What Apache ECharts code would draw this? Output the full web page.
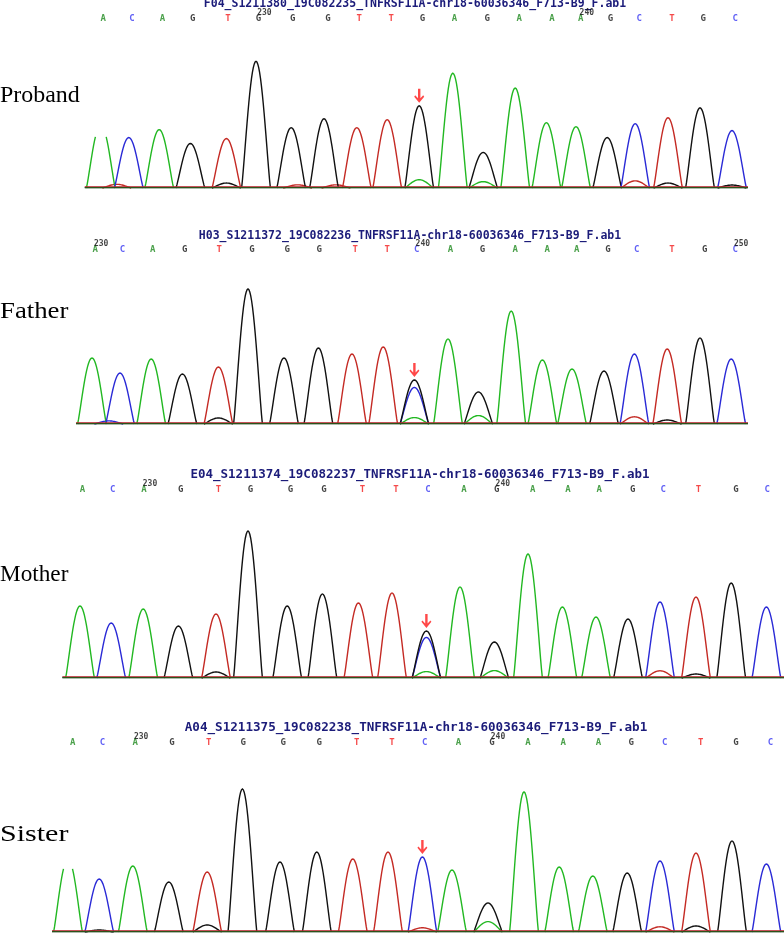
<!DOCTYPE html>
<html>
<head>
<meta charset="utf-8">
<script src="https://cdn.jsdelivr.net/npm/echarts@6/dist/echarts.min.js"></script>
<style>
html,body{margin:0;padding:0;background:#fff;}
#chart{width:784px;height:935px;}
</style>
</head>
<body>
<div id="chart"></div>
<script>
// ---------------- DATA ----------------
const PANEL_NAMES = ['Proband', 'Father', 'Mother', 'Sister'];
const FILE_NAMES = [
  'F04_S1211380_19C082235_TNFRSF11A-chr18-60036346_F713-B9_F.ab1',
  'H03_S1211372_19C082236_TNFRSF11A-chr18-60036346_F713-B9_F.ab1',
  'E04_S1211374_19C082237_TNFRSF11A-chr18-60036346_F713-B9_F.ab1',
  'A04_S1211375_19C082238_TNFRSF11A-chr18-60036346_F713-B9_F.ab1'
];

// base calls (letters row)
const CALLS_PROBAND = ['A','C','A','G','T','G','G','G','T','T','G','A','G','A','A','A','G','C','T','G','C'];
const CALLS_FATHER  = ['A','C','A','G','T','G','G','G','T','T','C','A','G','A','A','A','G','C','T','G','C'];
const CALLS_MOTHER  = ['A','C','A','G','T','G','G','G','T','T','C','A','G','A','A','A','G','C','T','G','C'];
const CALLS_SISTER  = ['A','C','A','G','T','G','G','G','T','T','C','A','G','A','A','A','G','C','T','G','C'];

// scan position of each base call
const CALL_SCAN_PROBAND = [129,165,203,241,285,323,366,410,449,489,528,568,609,649,690,726,763,799,840,879,919];
const CALL_SCAN_FATHER  = [119,153,191,231,274,315,359,399,444,484,521,563,603,644,684,721,760,796,840,881,919];
const CALL_SCAN_MOTHER  = [103,141,180,226,273,313,363,405,453,495,535,580,621,666,710,749,791,829,873,920,959];
const CALL_SCAN_SISTER  = [91,128,169,215,261,304,354,399,446,490,531,573,615,660,704,748,789,831,876,920,963];

// position numbers: [call index, label]
const POS_PROBAND = [[5,'230'],[15,'240']];
const POS_FATHER  = [[0,'230'],[10,'240'],[20,'250']];
const POS_MOTHER  = [[2,'230'],[12,'240']];
const POS_SISTER  = [[2,'230'],[12,'240']];

// main peaks: scan, height (RFU), channel
const PEAK_X_PROBAND = [126,161,199,238,283,320,364,405,446,484,524,566,604,644,683,720,759,794,835,875,915];
const PEAK_H_PROBAND = [640,510,590,450,500,1280,610,700,610,690,830,1160,360,1010,660,620,510,650,710,810,580];
const PEAK_B_PROBAND = ['A','C','A','G','T','G','G','G','T','T','G','A','G','A','A','A','G','C','T','G','C'];

const PEAK_X_FATHER = [115,150,189,228,273,310,355,398,440,479,518,560,598,639,678,715,755,793,834,875,914];
const PEAK_H_FATHER = [660,510,650,500,570,1350,660,760,700,770,440,850,320,1130,640,550,530,700,750,860,650];
const PEAK_B_FATHER = ['A','C','A','G','T','G','G','G','T','T','G','A','G','A','A','A','G','C','T','G','C'];

const PEAK_X_MOTHER = [100,139,179,223,270,310,359,403,448,490,533,575,618,660,703,745,785,825,870,914,958];
const PEAK_H_MOTHER = [720,550,690,520,640,1470,720,840,750,850,470,910,360,1240,710,610,590,760,810,950,710];
const PEAK_B_MOTHER = ['A','C','A','G','T','G','G','G','T','T','G','A','G','A','A','A','G','C','T','G','C'];

const PEAK_X_SISTER = [85,124,166,211,259,303,350,396,441,485,528,565,610,655,699,741,784,825,870,915,958];
const PEAK_H_SISTER = [730,530,660,500,600,1430,700,800,730,800,750,620,290,1400,650,560,590,710,790,910,680];
const PEAK_B_SISTER = ['A','C','A','G','T','G','G','G','T','T','C','A','G','A','A','A','G','C','T','G','C'];

// secondary / minor peaks: [scan, height, channel]
const MINOR_PROBAND = [[283,50,'G'],[524,80,'A'],[604,60,'A'],[794,60,'T'],[835,50,'G'],[146,25,'T'],[372,20,'T'],[420,20,'T'],[915,30,'G']];
const MINOR_FATHER  = [[518,360,'C'],[273,60,'G'],[518,60,'A'],[598,80,'A'],[793,60,'T'],[834,40,'G'],[136,25,'C']];
const MINOR_MOTHER  = [[533,400,'C'],[270,60,'G'],[533,60,'A'],[618,70,'A'],[825,60,'T'],[870,40,'G']];
const MINOR_SISTER  = [[259,70,'G'],[610,100,'A'],[825,40,'T'],[870,60,'G'],[528,30,'T'],[124,20,'G']];

// clipped first peak: [peak index, visible top (RFU)] or null
const CLIP_PROBAND = [0, 550];
const CLIP_FATHER = null;
const CLIP_MOTHER = null;
const CLIP_SISTER = [0, 650];

// trace scan range
const RANGE_PROBAND = [106, 935];
const RANGE_FATHER  = [95, 935];
const RANGE_MOTHER  = [78, 980];
const RANGE_SISTER  = [65, 980];

const MUTATION_INDEX = 10;

// ---------------- STYLE / LAYOUT ----------------
const TRACE_COLOR  = {A:'#22b822', C:'#2a2ad6', G:'#111111', T:'#c42a24'};
const LETTER_COLOR = {A:'#1f8a1f', C:'#3a3af2', G:'#111111', T:'#f21d1d'};
const BASELINE_LEVEL = {G:0, T:12, A:4, C:6};
const BASELINE_ORDER = ['C','A','T','G'];
const CH = ['A','C','G','T'];
const BASE_Y = [188, 424, 678, 932];      // pixel of baseline per panel
const PLOT_H = 190;                        // px
const Y_MAX = 1900;
const X_MAX = 980;
const LETTER_ROW = [1710, 1740, 1880, 1890];
const TITLE_Y = [4, 236, 475, 728];
const TITLE_X = [415, 410, 420, 416];
const TITLE_SIZE = [11.5, 11.5, 12.5, 12.6];
const LABEL_Y = [96, 312, 575, 835];
const HALF = 18;   // half base width of a peak in scans

const P = [
  {calls:CALLS_PROBAND, cscan:CALL_SCAN_PROBAND, pos:POS_PROBAND, px:PEAK_X_PROBAND, ph:PEAK_H_PROBAND, pb:PEAK_B_PROBAND, minor:MINOR_PROBAND, clip:CLIP_PROBAND, range:RANGE_PROBAND},
  {calls:CALLS_FATHER, cscan:CALL_SCAN_FATHER, pos:POS_FATHER, px:PEAK_X_FATHER, ph:PEAK_H_FATHER, pb:PEAK_B_FATHER, minor:MINOR_FATHER, clip:CLIP_FATHER, range:RANGE_FATHER},
  {calls:CALLS_MOTHER, cscan:CALL_SCAN_MOTHER, pos:POS_MOTHER, px:PEAK_X_MOTHER, ph:PEAK_H_MOTHER, pb:PEAK_B_MOTHER, minor:MINOR_MOTHER, clip:CLIP_MOTHER, range:RANGE_MOTHER},
  {calls:CALLS_SISTER, cscan:CALL_SCAN_SISTER, pos:POS_SISTER, px:PEAK_X_SISTER, ph:PEAK_H_SISTER, pb:PEAK_B_SISTER, minor:MINOR_SISTER, clip:CLIP_SISTER, range:RANGE_SISTER}
];

function renderPeak(params, api) {
  const x = api.value(0), h = api.value(1), ci = api.value(2), cut = api.value(3);
  const N = 16;
  const segs = []; let cur = [];
  for (let k = -N; k <= N; k++) {
    const t = k / N;
    const y = h * Math.pow(Math.cos(t * Math.PI / 2), 1.15);
    if (cut > 0 && y > cut) { if (cur.length) { segs.push(cur); cur = []; } continue; }
    cur.push(api.coord([x + t * HALF, y]));
  }
  if (cur.length) segs.push(cur);
  return {
    type: 'group',
    children: segs.map(pts => ({
      type: 'polyline',
      shape: {points: pts},
      style: {stroke: TRACE_COLOR[CH[ci]], fill: null, lineWidth: 1.4}
    }))
  };
}

const arrowPath = 'path://M3.8,0 L6.2,0 L6.2,9.5 L9,6.5 L10,7.8 L5,14 L0,7.8 L1,6.5 L3.8,9.5 Z';

const grids = [], xAxes = [], yAxes = [], series = [], graphics = [];
const measureCtx = document.createElement('canvas').getContext('2d');

P.forEach((d, i) => {
  grids.push({left: 0, right: 0, top: BASE_Y[i] - PLOT_H, height: PLOT_H});
  xAxes.push({type: 'value', gridIndex: i, min: 0, max: X_MAX, show: false});
  yAxes.push({type: 'value', gridIndex: i, min: 0, max: Y_MAX, show: false});

  // baselines of the four channels
  BASELINE_ORDER.forEach(b => {
    series.push({
      type: 'line', xAxisIndex: i, yAxisIndex: i, silent: true, showSymbol: false,
      data: [[d.range[0], BASELINE_LEVEL[b]], [d.range[1], BASELINE_LEVEL[b]]],
      lineStyle: {color: TRACE_COLOR[b], width: 1.1}
    });
  });

  // peaks
  const pdata = [];
  d.minor.forEach(m => pdata.push([m[0], m[1] + BASELINE_LEVEL[m[2]], CH.indexOf(m[2]), 0]));
  d.px.forEach((x, k) => {
    const cut = (d.clip && d.clip[0] === k) ? d.clip[1] : 0;
    pdata.push([x, d.ph[k], CH.indexOf(d.pb[k]), cut]);
  });
  series.push({
    type: 'custom', xAxisIndex: i, yAxisIndex: i, silent: true,
    dimensions: ['scan','rfu','ch','cut'],
    encode: {x: 0, y: 1},
    renderItem: renderPeak,
    data: pdata, clip: false
  });

  // base-call letters
  series.push({
    type: 'scatter', xAxisIndex: i, yAxisIndex: i, silent: true, symbolSize: 0, clip: false,
    data: d.calls.map((c, k) => ({
      value: [d.cscan[k], LETTER_ROW[i]],
      label: {color: LETTER_COLOR[c]}
    })),
    label: {
      show: true, position: 'inside',
      formatter: p => d.calls[p.dataIndex],
      fontFamily: 'DejaVu Sans Mono', fontWeight: 'bold', fontSize: 9
    }
  });

  // position numbers
  series.push({
    type: 'scatter', xAxisIndex: i, yAxisIndex: i, silent: true, symbolSize: 0, clip: false,
    data: d.pos.map(p => [d.cscan[p[0]], LETTER_ROW[i]]),
    label: {
      show: true, position: 'inside', offset: [6, -6],
      formatter: p => d.pos[p.dataIndex][1],
      fontFamily: 'DejaVu Sans Mono', fontWeight: 'bold', fontSize: 8, color: '#111'
    }
  });

  // mutation arrow, placed on top of the peak(s) at the mutation position
  const mx = d.px[MUTATION_INDEX];
  let mh = d.ph[MUTATION_INDEX];
  d.minor.forEach(m => { if (m[0] === mx && m[1] > mh) mh = m[1]; });
  series.push({
    type: 'scatter', xAxisIndex: i, yAxisIndex: i, silent: true, clip: false,
    symbol: arrowPath, symbolSize: [10, 14], symbolOffset: [0, -10],
    itemStyle: {color: '#ff1a1a'},
    data: [[mx, mh]]
  });

  // file name title
  graphics.push({
    type: 'text', x: TITLE_X[i], y: TITLE_Y[i],
    style: {text: FILE_NAMES[i], align: 'center', verticalAlign: 'middle',
      font: 'bold ' + TITLE_SIZE[i] + 'px "DejaVu Sans Mono"', fill: '#1c1c7a'}
  });

  // panel label
  const font = '23px "Liberation Serif"';
  measureCtx.font = font;
  const w = measureCtx.measureText(PANEL_NAMES[i]).width;
  const target = PANEL_NAMES[i].length * 11.4;
  graphics.push({
    type: 'text', x: 0, y: LABEL_Y[i], scaleX: target / w, originX: 0,
    style: {text: PANEL_NAMES[i], align: 'left', verticalAlign: 'middle', font: font, fill: '#000'}
  });
});

const chart = echarts.init(document.getElementById('chart'), null, {renderer: 'canvas'});
chart.setOption({
  animation: false,
  backgroundColor: '#fff',
  grid: grids, xAxis: xAxes, yAxis: yAxes,
  series: series,
  graphic: graphics
});
</script>
</body>
</html>
